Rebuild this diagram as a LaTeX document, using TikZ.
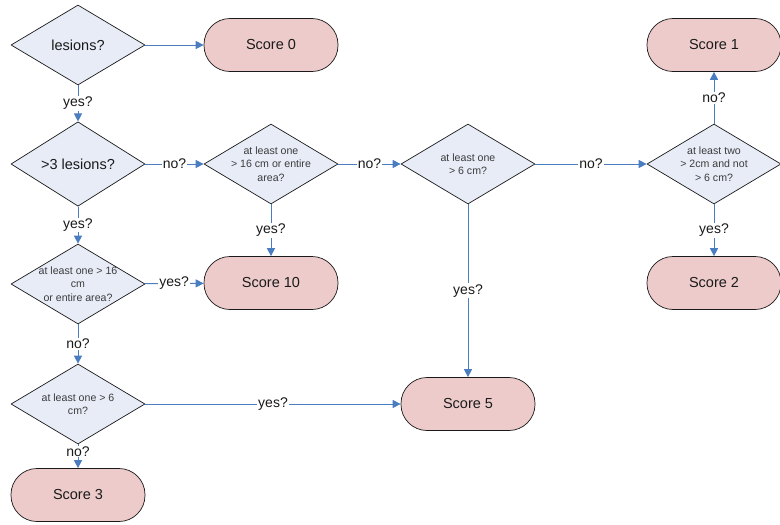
\documentclass[tikz,border=0pt]{standalone}
\usepackage{fontspec}
\setmainfont{Liberation Sans}
\usetikzlibrary{arrows.meta,shapes.geometric}
\definecolor{ink}{HTML}{1A1A1A}
\definecolor{decfill}{HTML}{E7ECF7}
\definecolor{scorefill}{HTML}{EECBCB}
\definecolor{flowcol}{HTML}{4A7CC0}

\begin{document}
\begin{tikzpicture}[x=1pt, y=-1pt, line join=round,
  dia/.style={diamond, draw=ink, fill=decfill, line width=0.7pt,
              minimum width=134pt, minimum height=80pt, inner sep=0pt,
              font=\fontsize{14.5}{17}\selectfont, text=ink},
  dtxt/.style={font=\fontsize{10.6}{13.5}\selectfont, align=center, text=ink!85},
  pill/.style={draw=ink, fill=scorefill, rounded corners=26pt, line width=0.7pt,
               minimum width=134pt, minimum height=53pt,
               font=\fontsize{14.5}{17}\selectfont, text=ink},
  flow/.style={-{Triangle[length=8pt,width=8pt]}, flowcol, line width=0.9pt},
  lab/.style={fill=white, inner sep=1pt, font=\fontsize{14}{16}\selectfont, text=ink}]
\useasboundingbox (0,0) rectangle (780,525);

% ==================================================== decisions
\node[dia] (les) at (78,45) {lesions?};
\node[dia] (many) at (78,164) {>3 lesions?};
\node[dia, label={[dtxt]center:at least one\\> 16 cm or entire\\area?}] (bigm) at (271,164) {};
\node[dia, label={[dtxt]center:at least one\\> 6 cm?}] (sixm) at (468,164) {};
\node[dia, label={[dtxt]center:at least two\\> 2cm and not\\> 6 cm?}] (two) at (714,164) {};
\node[dia, label={[dtxt]center:at least one > 16\\cm\\or entire area?}] (bigf) at (78,284) {};
\node[dia, label={[dtxt]center:at least one > 6\\cm?}] (sixf) at (78,404) {};

% ==================================================== scores
\node[pill] (s0) at (271,45) {Score 0};
\node[pill] (s1) at (714,45) {Score 1};
\node[pill] (s2) at (714,283) {Score 2};
\node[pill] (s10) at (271,283) {Score 10};
\node[pill] (s5) at (468,404) {Score 5};
\node[pill] (s3) at (78,495) {Score 3};

% ==================================================== flow
\draw[flow] (les) -- (s0);
\draw[flow] (les) -- node[lab] {yes?} (many);
\draw[flow] (many) -- node[lab] {no?} (bigm);
\draw[flow] (bigm) -- node[lab] {no?} (sixm);
\draw[flow] (sixm) -- node[lab] {no?} (two);
\draw[flow] (two) -- node[lab] {no?} (s1);
\draw[flow] (two) -- node[lab] {yes?} (s2);
\draw[flow] (bigm) -- node[lab] {yes?} (s10);
\draw[flow] (sixm) -- node[lab] {yes?} (s5);
\draw[flow] (many) -- node[lab] {yes?} (bigf);
\draw[flow] (bigf) -- node[lab] {yes?} (s10);
\draw[flow] (bigf) -- node[lab] {no?} (sixf);
\draw[flow] (sixf) -- node[lab] {yes?} (s5);
\draw[flow] (sixf) -- node[lab, pos=0.3] {no?} (s3);

\end{tikzpicture}
\end{document}
